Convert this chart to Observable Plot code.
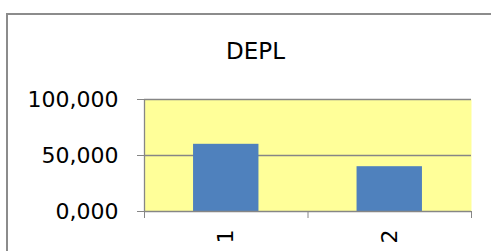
<!DOCTYPE html>
<html><head><meta charset="utf-8">
<script src="https://cdn.jsdelivr.net/npm/d3@7"></script>
<script src="https://cdn.jsdelivr.net/npm/@observablehq/plot@0.6"></script>
<style>
body{margin:0;background:#fff;}
#wrap{position:relative;width:491px;height:251px;overflow:hidden;}
#border{position:absolute;left:6px;top:13px;width:600px;height:400px;border:2px solid #8c8c8c;box-sizing:border-box;}
#chart{position:absolute;left:0;top:0;}
</style></head><body>
<div id="wrap"><div id="border"></div><div id="chart"></div></div>
<script>
const title = "DEPL";
const categories = ["1", "2"];
const values = [60, 40];
const yTicks = [0, 50, 100];

const data = categories.map((c, i) => ({cat: c, pos: i + 1, value: values[i]}));
const bounds = [0.5, ...categories.map((c, i) => i + 1.5)];
const fmt = d => d3.format(".3f")(d).replace(".", ",");
const gray = "#868686";

const plot = Plot.plot({
  width: 491, height: 251,
  marginLeft: 144, marginRight: 20, marginTop: 99, marginBottom: 40,
  style: {fontFamily: "DejaVu Sans", fontSize: "22px", color: "black", background: "transparent", overflow: "visible"},
  x: {type: "linear", domain: [0.5, categories.length + 0.5]},
  y: {domain: [0, 100]},
  marks: [
    Plot.frame({fill: "#FFFF99", stroke: null}),
    Plot.ruleY(yTicks.filter(d => d > 0), {stroke: gray, strokeWidth: 1.3}),
    Plot.rectY(data, {x1: d => d.pos - 0.2, x2: d => d.pos + 0.2, y: "value", fill: "#4F81BD"}),
    Plot.ruleX([0.5], {stroke: gray, strokeWidth: 1.3}),
    Plot.ruleY([0], {stroke: gray, strokeWidth: 1.3}),
    Plot.axisY({ticks: yTicks, tickSize: 7, tickPadding: 19, tickFormat: fmt, stroke: gray, fill: "black", label: null}),
    Plot.axisX({ticks: bounds, tickSize: 7, tickFormat: () => "", stroke: gray, label: null}),
    Plot.text(data, {x: "pos", text: "cat", frameAnchor: "bottom", rotate: -90, textAnchor: "end", lineAnchor: "middle", dy: 18, fill: "black"}),
    Plot.text([title], {frameAnchor: "top-left", dx: 111, dy: -48, text: d => d, textAnchor: "middle", lineAnchor: "middle", fontSize: 23, fill: "black"})
  ]
});
document.getElementById("chart").appendChild(plot);
</script>
</body></html>
